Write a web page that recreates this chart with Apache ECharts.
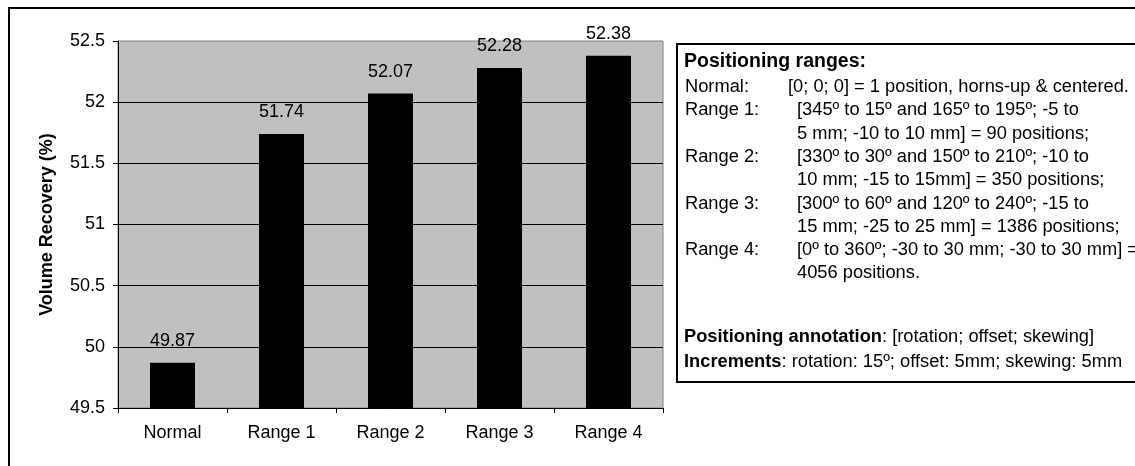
<!DOCTYPE html>
<html>
<head>
<meta charset="utf-8">
<title>Volume Recovery by Positioning Range</title>
<script src="https://cdn.jsdelivr.net/npm/echarts@6/dist/echarts.min.js"></script>
<style>
  html, body { margin: 0; padding: 0; background: #ffffff; }
  #chart { width: 1135px; height: 466px; }
</style>
</head>
<body>
<div id="chart"></div>
<script>
// Categories and measured volume recovery (%)
const categories = ['Normal', 'Range 1', 'Range 2', 'Range 3', 'Range 4'];
const recovery = [49.87, 51.74, 52.07, 52.28, 52.38];

// Value axis range and step
const yMin = 49.5;
const yMax = 52.5;
const yStep = 0.5;

// Legend box text: range names and their definitions
const boxHeading = 'Positioning ranges:';
const rangeNames = ['Normal:', 'Range 1:', '', 'Range 2:', '', 'Range 3:', '', 'Range 4:', ''];
const rangeDefs = [
  '[0; 0; 0] = 1 position, horns-up & centered.',
  '[345º to 15º and 165º to 195º; -5 to',
  '5 mm; -10 to 10 mm] = 90 positions;',
  '[330º to 30º and 150º to 210º; -10 to',
  '10 mm; -15 to 15mm] = 350 positions;',
  '[300º to 60º and 120º to 240º; -15 to',
  '15 mm; -25 to 25 mm] = 1386 positions;',
  '[0º to 360º; -30 to 30 mm; -30 to 30 mm] =',
  '4056 positions.'
];
const noteLines = [
  '{b|Positioning annotation}: [rotation; offset; skewing]',
  '{b|Increments}: rotation: 15º; offset: 5mm; skewing: 5mm'
];

const FONT = '"Liberation Sans", Arial, Helvetica, sans-serif';
const BOX_SIZE = 18.3;
const chart = echarts.init(document.getElementById('chart'), null, { renderer: 'canvas' });

// Text block inside the box
const boxText = [];
boxText.push({
  type: 'text', z: 20,
  style: { x: 684, y: 62, text: boxHeading, font: 'bold 19.5px ' + FONT, fill: '#000', textVerticalAlign: 'middle' }
});
rangeDefs.forEach((def, i) => {
  const y = 87 + i * 23.3;
  if (rangeNames[i]) {
    boxText.push({
      type: 'text', z: 20,
      style: { x: 685, y: y, text: rangeNames[i], font: BOX_SIZE + 'px ' + FONT, fill: '#000', textVerticalAlign: 'middle' }
    });
  }
  boxText.push({
    type: 'text', z: 20,
    style: { x: i === 0 ? 788 : 797, y: y, text: def, font: BOX_SIZE + 'px ' + FONT, fill: '#000', textVerticalAlign: 'middle' }
  });
});
noteLines.forEach((line, i) => {
  boxText.push({
    type: 'text', z: 20,
    style: {
      x: 684, y: 337 + i * 25, text: line, font: BOX_SIZE + 'px ' + FONT, fill: '#000', textVerticalAlign: 'middle',
      rich: { b: { fontWeight: 'bold', fontSize: BOX_SIZE, fontFamily: FONT, fill: '#000' } }
    }
  });
});

const option = {
  backgroundColor: '#ffffff',
  animation: false,
  textStyle: { fontFamily: FONT },
  grid: {
    left: 118, right: 472, top: 41, bottom: 58,
    show: true,
    backgroundColor: '#c0c0c0',
    borderColor: '#808080',
    borderWidth: 1
  },
  xAxis: {
    type: 'category',
    data: categories,
    boundaryGap: true,
    axisLine: { show: true, lineStyle: { color: '#000', width: 1 } },
    axisTick: { show: true, alignWithLabel: false, length: 5, lineStyle: { color: '#000' } },
    axisLabel: { color: '#000', fontSize: 18, fontFamily: FONT, margin: 16 },
    splitLine: { show: false }
  },
  yAxis: {
    type: 'value',
    min: yMin, max: yMax, interval: yStep,
    name: 'Volume Recovery (%)',
    nameLocation: 'middle',
    nameRotate: 90,
    nameGap: 62,
    nameTextStyle: { color: '#000', fontSize: 18, fontWeight: 'bold', fontFamily: FONT },
    axisLine: { show: true, lineStyle: { color: '#000', width: 1 } },
    axisTick: { show: true, length: 5, lineStyle: { color: '#000' } },
    axisLabel: { color: '#000', fontSize: 18, fontFamily: FONT, margin: 13 },
    splitLine: { show: true, showMinLine: false, showMaxLine: false, lineStyle: { color: '#000', width: 1 } }
  },
  series: [{
    type: 'bar',
    data: recovery,
    barWidth: 45,
    itemStyle: { color: '#000000' },
    label: {
      show: true, position: 'top', distance: 13,
      color: '#000', fontSize: 18, fontFamily: FONT,
      formatter: p => p.value.toFixed(2)
    }
  }],
  graphic: [
    // Outer chart frame
    {
      type: 'rect', z: 0, silent: true,
      shape: { x: 9, y: 8, width: 1400, height: 700 },
      style: { fill: 'none', stroke: '#000', lineWidth: 2 }
    },
    // Legend text box
    {
      type: 'rect', z: 10, silent: true,
      shape: { x: 677, y: 44, width: 700, height: 338 },
      style: { fill: '#fff', stroke: '#000', lineWidth: 2 }
    }
  ].concat(boxText)
};

chart.setOption(option);
</script>
</body>
</html>
